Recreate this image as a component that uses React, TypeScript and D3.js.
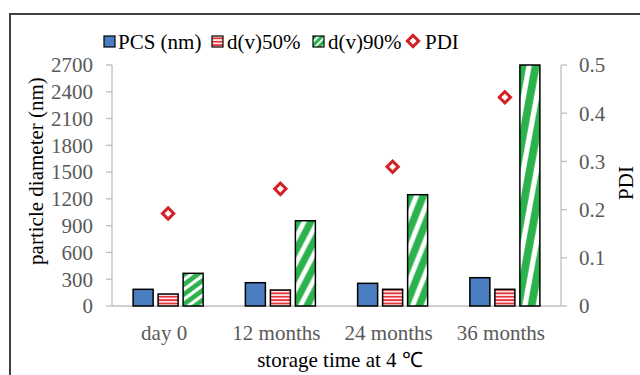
import * as d3 from 'd3'
import { useMemo } from 'react'

const categories = ['day 0', '12 months', '24 months', '36 months']
const pcs = [187, 261, 254, 317]
const dv50 = [134, 179, 187, 187]
const dv90 = [366, 955, 1247, 2700]
const pdi = [0.192, 0.243, 0.289, 0.433]
const leftTicks = [0, 300, 600, 900, 1200, 1500, 1800, 2100, 2400, 2700]
const rightTicks = [0, 0.1, 0.2, 0.3, 0.4, 0.5]

const W = 640
const H = 375
const margin = { left: 112, right: 79, top: 65, bottom: 69 }
const FONT = '"Liberation Serif", "Times New Roman", serif'
const GRAY = '#595959'
const AXIS = '#bfbfbf'
const GREEN = '#2cb24d'

const series = [
  { key: 'pcs', label: 'PCS (nm)', values: pcs, fill: '#4a7ec0' },
  { key: 'dv50', label: 'd(v)50%', values: dv50, fill: 'url(#hstripe)' },
  { key: 'dv90', label: 'd(v)90%', values: dv90, fill: 'url(#dstripe)' },
]

// the office hatch stretches with each bar, so the tile is in bbox units
const TILE = 0.3
const RISE = 0.45
const STRIPE = 0.12

const App = () => {
  const x0 = useMemo(
    () => d3.scaleBand().domain(categories).range([margin.left, W - margin.right]).padding(0),
    []
  )
  const x1 = useMemo(
    () => d3.scaleBand().domain(series.map((s) => s.key)).range([0, 70]).paddingInner(0.2),
    []
  )
  const yL = useMemo(() => d3.scaleLinear().domain([0, 2700]).range([H - margin.bottom, margin.top]), [])
  const yR = useMemo(() => d3.scaleLinear().domain([0, 0.5]).range([H - margin.bottom, margin.top]), [])

  const left = margin.left
  const right = W - margin.right
  const base = H - margin.bottom
  const groupX = (c: string) => x0(c)! + (x0.bandwidth() - 70) / 2
  const bw = x1.bandwidth()

  return (
    <svg width={W} height={H} style={{ position: 'absolute', left: 0, top: 0, fontFamily: FONT }}>
      <defs>
        <pattern id="hstripe" width="6" height="3.4" patternUnits="userSpaceOnUse">
          <rect width="6" height="3.4" fill="#e8333b" />
          <rect y="1.9" width="6" height="1.5" fill="#fff" />
        </pattern>
        <pattern id="dlegend" width="5" height="5" patternUnits="userSpaceOnUse" patternTransform="rotate(45)">
          <rect width="5" height="5" fill={GREEN} />
          <rect width="1.8" height="5" fill="#fff" />
        </pattern>
        <pattern id="dstripe" patternUnits="objectBoundingBox" patternContentUnits="objectBoundingBox" width={1} height={TILE}>
          <rect width={1} height={TILE} fill={GREEN} />
          {d3.range(-3, 2).map((j) => (
            <polygon
              key={j}
              points={`0,${j * TILE + RISE} 0,${j * TILE + RISE + STRIPE} 1,${j * TILE + STRIPE} 1,${j * TILE}`}
              fill="#fff"
            />
          ))}
        </pattern>
      </defs>
      <rect x={0} y={0} width={W} height={H} fill="#fff" />
      <path d={`M10,${H}V14H${W}`} fill="none" stroke="#404040" strokeWidth={2} />

      {/* legend */}
      <g fontSize={21} fill="#000" style={{ fontFamily: FONT }}>
        <rect x={104} y={36} width={11} height={11} fill="#4a7ec0" stroke="#000" strokeWidth={1.2} />
        <text x={118} y={49}>PCS (nm)</text>
        <rect x={212} y={36} width={11} height={11} fill="url(#hstripe)" stroke="#000" strokeWidth={1.2} />
        <text x={227} y={49}>d(v)50%</text>
        <rect x={313} y={36} width={11} height={11} fill="url(#dlegend)" stroke="#000" strokeWidth={1.2} />
        <text x={328} y={49}>d(v)90%</text>
        <rect x={409} y={37} width={8} height={8} fill="#fff" stroke="#d42027" strokeWidth={3} transform="rotate(45 413 41)" />
        <text x={425} y={49}>PDI</text>
      </g>

      {/* axes */}
      <g stroke={AXIS} strokeWidth={1.3} fill="none">
        <line x1={left} x2={left} y1={margin.top} y2={base} />
        <line x1={right} x2={right} y1={margin.top} y2={base} />
        <line x1={left} x2={right} y1={base} y2={base} />
        {leftTicks.map((t) => (
          <line key={'l' + t} x1={left - 6} x2={left} y1={yL(t)} y2={yL(t)} />
        ))}
        {rightTicks.map((t) => (
          <line key={'r' + t} x1={right} x2={right + 6} y1={yR(t)} y2={yR(t)} />
        ))}
      </g>
      <g fontSize={21} fill={GRAY} style={{ fontFamily: FONT }}>
        {leftTicks.map((t) => (
          <text key={'lt' + t} x={left - 19} y={yL(t)} dy="0.35em" textAnchor="end">
            {t}
          </text>
        ))}
        {rightTicks.map((t) => (
          <text key={'rt' + t} x={right + 18} y={yR(t)} dy="0.35em">
            {t === 0 ? '0' : t.toFixed(1)}
          </text>
        ))}
        {categories.map((c) => (
          <text key={c} x={x0(c)! + x0.bandwidth() / 2 - 4} y={340} textAnchor="middle">
            {c}
          </text>
        ))}
      </g>

      {/* bars */}
      {categories.map((c, i) => (
        <g key={c} transform={`translate(${groupX(c)},0)`}>
          {series.map((s) => (
            <rect
              key={s.key}
              x={x1(s.key)}
              y={yL(s.values[i])}
              width={bw}
              height={base - yL(s.values[i])}
              fill={s.fill}
              stroke="#000"
              strokeWidth={1.5}
            />
          ))}
        </g>
      ))}

      {/* PDI markers */}
      {categories.map((c, i) => {
        const cx = groupX(c) + x1('dv50')! + bw / 2
        const cy = yR(pdi[i])
        return (
          <rect
            key={'p' + c}
            x={cx - 4}
            y={cy - 4}
            width={8}
            height={8}
            fill="#fff"
            stroke="#d42027"
            strokeWidth={3}
            transform={`rotate(45 ${cx} ${cy})`}
          />
        )
      })}

      {/* titles */}
      <g fontSize={21} fill="#000" style={{ fontFamily: FONT }}>
        <text textAnchor="middle" transform="translate(43,171) rotate(-90)">
          particle diameter (nm)
        </text>
        <text textAnchor="middle" transform="translate(633,183) rotate(-90)">
          PDI
        </text>
        <text x={340} y={367} textAnchor="middle">
          storage time at 4 ℃
        </text>
      </g>
    </svg>
  )
}

export default App
